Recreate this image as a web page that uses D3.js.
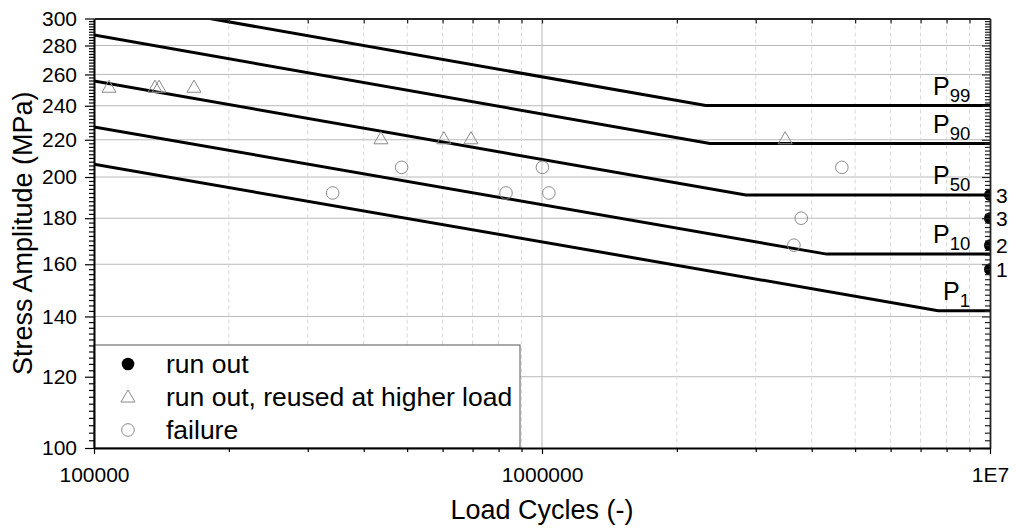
<!DOCTYPE html>
<html>
<head>
<meta charset="utf-8">
<script src="https://cdn.jsdelivr.net/npm/d3@7"></script>
<style>
  body { margin: 0; background: #fff; }
  svg { display: block; font-family: "Liberation Sans", Arial, sans-serif; }
</style>
</head>
<body>
<svg id="chart" width="1016" height="532"></svg>
<script>
// P-S-N curves: sloped branch from 1e5 cycles down to the knee, then flat endurance level
const probLevels      = ["99", "90", "50", "10", "1"];
const startStress     = [316, 287.6, 255.7, 227.3, 206.7];   // MPa at 1e5 cycles
const kneeCycles      = [2.32e6, 2.37e6, 2.85e6, 4.32e6, 7.66e6];
const enduranceStress = [240.1, 217.9, 191.0, 164.2, 142.1]; // MPa

// Test results
const failureCycles = [341000, 486000, 831000, 1002000, 1036000, 3650000, 3790000, 4670000];
const failureStress = [192, 205, 192, 205, 192, 168, 180, 205];

const reusedCycles = [108000, 136800, 139700, 167200, 437000, 604000, 694000, 3490000];
const reusedStress = [251, 251, 251, 251, 220, 220, 220, 220];

const runOutCycles = [1e7, 1e7, 1e7, 1e7];
const runOutStress = [191, 180, 168, 158];
const runOutCounts = ["3", "3", "2", "1"];

// Axes
const xTickValues = [1e5, 1e6, 1e7];
const xTickLabels = ["100000", "1000000", "1E7"];
const yTickValues = [100, 120, 140, 160, 180, 200, 220, 240, 260, 280, 300];

const legendLabels = ["run out", "run out, reused at higher load", "failure"];

// ---------------------------------------------------------------
const W = 1016, H = 532;
const margin = { top: 18.5, right: 26, bottom: 84, left: 94 };
const x0 = margin.left, x1 = W - margin.right, y0 = H - margin.bottom, y1 = margin.top;

const x = d3.scaleLog().domain([1e5, 1e7]).range([x0, x1]);
const y = d3.scaleLog().domain([100, 300]).range([y0, y1]);

const svg = d3.select("#chart");

svg.append("defs").append("clipPath").attr("id", "plot-clip")
  .append("rect").attr("x", x0).attr("y", y1).attr("width", x1 - x0).attr("height", y0 - y1);

const xMinor = [];
[1e5, 1e6].forEach(dec => { for (let k = 2; k <= 9; k++) xMinor.push(dec * k); });
const yMinor = d3.range(102, 300, 2).filter(v => v % 20 !== 0);

// grid
const grid = svg.append("g");
grid.selectAll("line.hg").data(yTickValues.filter(v => v > 100 && v < 300)).join("line")
  .attr("x1", x0).attr("x2", x1).attr("y1", d => y(d)).attr("y2", d => y(d))
  .attr("stroke", "#b9b9b9").attr("stroke-width", 1);
grid.selectAll("line.vm").data(xMinor).join("line")
  .attr("y1", y1).attr("y2", y0).attr("x1", d => x(d)).attr("x2", d => x(d))
  .attr("stroke", "#d8d8d8").attr("stroke-width", 1).attr("stroke-dasharray", "4,3");
grid.append("line")
  .attr("y1", y1).attr("y2", y0).attr("x1", x(1e6)).attr("x2", x(1e6))
  .attr("stroke", "#b9b9b9").attr("stroke-width", 1);

const plot = svg.append("g").attr("clip-path", "url(#plot-clip)");

// P-S-N curves
const curves = probLevels.map((p, i) => [
  [1e5, startStress[i]],
  [kneeCycles[i], enduranceStress[i]],
  [1e7, enduranceStress[i]]
]);
const line = d3.line().x(d => x(d[0])).y(d => y(d[1]));
plot.selectAll("path.curve").data(curves).join("path")
  .attr("d", line).attr("fill", "none").attr("stroke", "#000").attr("stroke-width", 3);

// markers
const tri = d3.symbol().type(d3.symbolTriangle).size(85);
plot.selectAll("path.reused").data(reusedCycles.map((c, i) => [c, reusedStress[i]])).join("path")
  .attr("d", tri).attr("transform", d => `translate(${x(d[0])},${y(d[1])})`)
  .attr("fill", "none").attr("stroke", "#8a8a8a").attr("stroke-width", 1);

plot.selectAll("circle.fail").data(failureCycles.map((c, i) => [c, failureStress[i]])).join("circle")
  .attr("cx", d => x(d[0])).attr("cy", d => y(d[1])).attr("r", 6.3)
  .attr("fill", "none").attr("stroke", "#8a8a8a").attr("stroke-width", 1);

plot.selectAll("circle.runout").data(runOutCycles.map((c, i) => [c, runOutStress[i]])).join("circle")
  .attr("cx", d => x(d[0])).attr("cy", d => y(d[1])).attr("r", 6)
  .attr("fill", "#000");

// curve labels
const labelOffset = [57, 57, 57, 57, 47];
probLevels.forEach((p, i) => {
  const t = svg.append("text")
    .attr("x", x1 - labelOffset[i]).attr("y", y(enduranceStress[i]) - 11)
    .attr("font-size", 25).attr("fill", "#000");
  t.append("tspan").text("P");
  t.append("tspan").attr("dy", 7).attr("font-size", 18.5).text(p);
});

// run-out counts
svg.selectAll("text.count").data(runOutCounts).join("text")
  .attr("x", x1 + 6).attr("y", (d, i) => y(runOutStress[i]) + 8)
  .attr("font-size", 21).text(d => d);

// legend
const lg = svg.append("g");
lg.append("rect").attr("x", x0).attr("y", 345).attr("width", 426).attr("height", y0 - 345)
  .attr("fill", "#fff").attr("stroke", "#555").attr("stroke-width", 1);
const lgY = [364, 397, 430];
lg.append("circle").attr("cx", 128).attr("cy", lgY[0]).attr("r", 6.3).attr("fill", "#000");
lg.append("path").attr("d", tri).attr("transform", `translate(128,${lgY[1] + 1})`)
  .attr("fill", "none").attr("stroke", "#8a8a8a");
lg.append("circle").attr("cx", 128).attr("cy", lgY[2]).attr("r", 6.3)
  .attr("fill", "none").attr("stroke", "#8a8a8a");
lg.selectAll("text").data(legendLabels).join("text")
  .attr("x", 166).attr("y", (d, i) => lgY[i]).attr("dy", "0.35em")
  .attr("font-size", 26.5).text(d => d);

// axes
function styleAxis(g, color, width) {
  g.select(".domain").attr("stroke", color).attr("stroke-width", width);
  g.selectAll(".tick line").attr("stroke", color).attr("stroke-width", 1.2);
  g.selectAll("text").attr("font-size", 21).attr("fill", "#000")
    .attr("font-family", "'Liberation Sans', Arial, sans-serif");
}

// left
svg.append("g").attr("transform", `translate(${x0},0)`)
  .call(d3.axisLeft(y).tickValues(yMinor).tickSize(5).tickFormat("").tickSizeOuter(0))
  .call(g => g.select(".domain").remove())
  .call(g => g.selectAll(".tick line").attr("stroke", "#000").attr("stroke-width", 1.2));
svg.append("g").attr("transform", `translate(${x0},0)`)
  .call(d3.axisLeft(y).tickValues(yTickValues).tickSize(9).tickPadding(8)
    .tickFormat(d3.format("d")).tickSizeOuter(0))
  .call(g => styleAxis(g, "#000", 2));

// right (inward ticks)
svg.append("g").attr("transform", `translate(${x1},0)`)
  .call(d3.axisLeft(y).tickValues(yMinor).tickSize(5).tickFormat("").tickSizeOuter(0))
  .call(g => g.select(".domain").remove())
  .call(g => g.selectAll(".tick line").attr("stroke", "#222").attr("stroke-width", 1.2));
svg.append("g").attr("transform", `translate(${x1},0)`)
  .call(d3.axisLeft(y).tickValues(yTickValues).tickSize(8).tickFormat("").tickSizeOuter(0))
  .call(g => styleAxis(g, "#222", 1.8));

// bottom
svg.append("g").attr("transform", `translate(0,${y0})`)
  .call(d3.axisBottom(x).tickValues(xMinor).tickSize(4).tickFormat("").tickSizeOuter(0))
  .call(g => g.select(".domain").remove())
  .call(g => g.selectAll(".tick line").attr("stroke", "#000").attr("stroke-width", 1.2));
svg.append("g").attr("transform", `translate(0,${y0})`)
  .call(d3.axisBottom(x).tickValues(xTickValues).tickSize(6).tickPadding(13)
    .tickFormat((d, i) => xTickLabels[i]).tickSizeOuter(0))
  .call(g => styleAxis(g, "#000", 2));

// top (inward ticks)
svg.append("g").attr("transform", `translate(0,${y1})`)
  .call(d3.axisBottom(x).tickValues(xMinor.concat([1e6])).tickSize(5).tickFormat("").tickSizeOuter(0))
  .call(g => styleAxis(g, "#222", 1.8));

// axis titles
svg.append("text").attr("transform", `translate(32,${(y0 + y1) / 2}) rotate(-90)`)
  .attr("text-anchor", "middle").attr("font-size", 27)
  .text("Stress Amplitude (MPa)");
svg.append("text").attr("x", (x0 + x1) / 2).attr("y", 519)
  .attr("text-anchor", "middle").attr("font-size", 27)
  .text("Load Cycles (-)");
</script>
</body>
</html>
